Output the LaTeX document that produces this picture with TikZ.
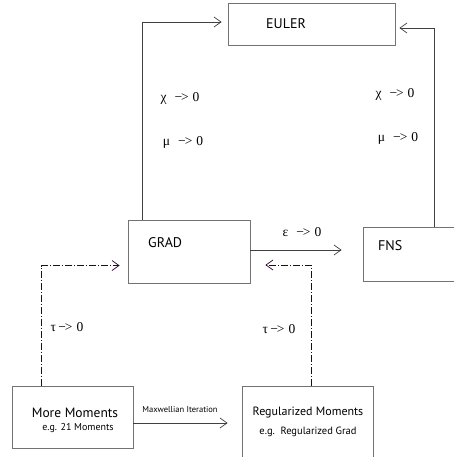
\documentclass[tikz,border=0pt]{standalone}
\usepackage{fontspec}
\setmainfont{Liberation Serif}
\newfontfamily\boxfont{PT Sans}
\usetikzlibrary{arrows.meta, positioning}
\tikzstyle{box}=[draw=black!55,line width=0.8pt,rectangle,inner sep=0pt]
\tikzstyle{boxtext}=[font=\boxfont\fontsize{14}{16}\selectfont,anchor=west,inner sep=0pt]
\tikzstyle{lim}=[font=\fontsize{13.5}{15}\selectfont,inner sep=0pt]
\tikzstyle{link}=[draw=black!75,line width=0.7pt]
\tikzstyle{back}=[draw=black!65!violet,line width=0.7pt,dash pattern=on 7pt off 2pt on 1pt off 2pt]
\newcommand{\tendsto}[1]{#1\hspace{8pt}−\kern-1pt>\hspace{4pt}0}

\begin{document}
\begin{tikzpicture}[x=1pt,y=-1pt,>={Straight Barb[length=7pt,width=10pt]}]
    \useasboundingbox (0,0) rectangle (454,457);
    \clip (0,0) rectangle (454,457);
    % boxes
    \node[box, minimum width=167, minimum height=42] (euler) at (311.5,24) {};
    \node[box, minimum width=122, minimum height=63] (grad) at (189,251.5) {};
    \node[box, minimum width=130, minimum height=54] (fns) at (428,254) {};
    \node[box, minimum width=121, minimum height=62] (more) at (72.5,417) {};
    \node[box, minimum width=131, minimum height=100] (reg) at (307.5,436) {};
    \node[boxtext] (euler-t) at (266,24) {EULER};
    \node[boxtext] (grad-t) at (148,243) {GRAD};
    \node[boxtext] (fns-t) at (378,246) {FNS};
    \node[boxtext, anchor=center, font=\boxfont\fontsize{13.5}{15}\selectfont] (more-t) at (75,413) {More Moments};
    \node[font=\boxfont\fontsize{10}{11}\selectfont, inner sep=0pt] (more-eg) at (78,428) {e.g. 21 Moments};
    \node[font=\boxfont\fontsize{12}{14}\selectfont, inner sep=0pt] (reg-t) at (308,413) {Regularized Moments};
    \node[font=\boxfont\fontsize{10.5}{12}\selectfont, inner sep=0pt] (reg-eg) at (308,432) {e.g.\ \ Regularized Grad};
    % limits
    \node[lim] (chi1) at (180,98) {\tendsto{χ}};
    \node[lim] (mu1) at (183,142) {\tendsto{μ}};
    \node[lim] (chi2) at (395,94) {\tendsto{χ}};
    \node[lim] (mu2) at (398,138) {\tendsto{μ}};
    \node[lim] (eps) at (302,232) {\tendsto{ε}};
    \node[lim] (tau1) at (67,327) {τ\,−\kern-1pt>\hspace{4pt}0};
    \node[lim] (tau2) at (279,329) {τ\,−\kern-1pt>\hspace{4pt}0};
    \node[font=\boxfont\fontsize{8.5}{10}\selectfont, inner sep=0pt] (maxw) at (180,410) {Maxwellian Iteration};
    % connectors
    \draw[link,->] ([xshift=15]grad.north west) |- ([shift={(-6,-2)}]euler.west);
    \draw[link,->] ([xshift=6]fns.north) |- ([shift={(4,4)}]euler.east);
    \draw[link,->] ([shift={(0,-1.5)}]grad.east) -- ([shift={(-21,-4)}]fns.west);
    \draw[back,->] ([xshift=-31.5]more.north) |- ([shift={(-8,14)}]grad.west);
    \draw[back,->] ([xshift=3.5]reg.north) |- ([shift={(15,13.5)}]grad.east);
    \draw[link,->] ([shift={(0,6)}]more.east) -- ([shift={(-14,6)}]reg.west |- more.east);
\end{tikzpicture}
\end{document}
